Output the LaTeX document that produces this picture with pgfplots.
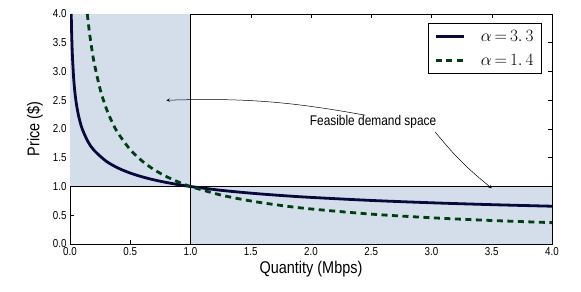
\documentclass[border=0pt]{standalone}
\usepackage{fontspec}
\setmainfont{Liberation Sans}[FakeStretch=0.85]
\usepackage{pgfplots}
\pgfplotsset{compat=1.18}
\definecolor{shade}{RGB}{211,222,234}
\definecolor{navy}{RGB}{8,8,58}
\definecolor{dgreen}{RGB}{0,62,18}
\begin{document}
\begin{tikzpicture}
\begin{axis}[
  scale only axis,
  width=482pt, height=230pt,
  xmin=0, xmax=4, ymin=0, ymax=4,
  xtick={0,0.5,...,4}, ytick={0,0.5,...,4},
  tick align=inside,
  major tick length=4pt,
  tick style={black, line width=0.5pt},
  axis line style={black, line width=0.8pt},
  /pgf/number format/assume math mode=true,
  xticklabel style={font=\fontsize{11.5}{12}\selectfont, /pgf/number format/.cd, fixed, fixed zerofill, precision=1},
  yticklabel style={font=\fontsize{11.5}{12}\selectfont, /pgf/number format/.cd, fixed, fixed zerofill, precision=1},
  xlabel={Quantity (Mbps)},
  ylabel={Price (\$)},
  xlabel style={font=\fontsize{17}{19}\selectfont, at={(axis description cs:0.5,-0.109)}, anchor=center},
  ylabel style={font=\fontsize{17}{19}\selectfont, at={(axis description cs:-0.073,0.5)}, anchor=center},
  legend style={at={(rel axis cs:0.979,0.961)}, anchor=north east, draw=black, line width=0.8pt,
    font=\fontsize{17}{20}\selectfont, inner xsep=6pt, inner ysep=5pt, row sep=7pt,
    /tikz/every odd column/.append style={column sep=14pt}},
  legend cell align=left,
  legend image code/.code={\draw[#1] (0pt,0pt) -- (28pt,0pt);},
]
\addplot[fill=shade, draw=none, forget plot] coordinates {(0,1) (1,1) (1,4) (0,4)} -- cycle;
\addplot[fill=shade, draw=none, forget plot] coordinates {(1,0) (4,0) (4,1) (1,1)} -- cycle;
\addplot[black, line width=0.6pt, forget plot] coordinates {(1,0) (1,4)};
\addplot[black, line width=0.6pt, forget plot] coordinates {(0,1) (4,1)};
\addplot[navy, line width=2.8pt, smooth] coordinates {
(0.0103,4.0) (0.012,3.820) (0.015,3.570) (0.02,3.272) (0.03,2.894) (0.04,2.652)
(0.05,2.479) (0.07,2.239) (0.1,2.009) (0.15,1.777) (0.2,1.6285) (0.3,1.4403)
(0.4,1.3200) (0.5,1.2337) (0.6,1.1674) (0.7,1.1141) (0.8,1.0700) (0.9,1.0324)
(1,1) (1.25,0.9346) (1.5,0.8844) (1.75,0.8440) (2,0.8106) (2.5,0.7576)
(3,0.7168) (3.5,0.6841) (4,0.6570)};
\addlegendentry{$\alpha\,{=}\,3.\,3$}
\addplot[dgreen, line width=2.8pt, dash pattern=on 6pt off 4.5pt, smooth] coordinates {
(0.1436,4.0) (0.16,3.703) (0.18,3.404) (0.2,3.157) (0.25,2.692) (0.3,2.363)
(0.35,2.117) (0.4,1.924) (0.5,1.641) (0.6,1.440) (0.7,1.290) (0.8,1.173)
(0.9,1.078) (1,1) (1.25,0.8527) (1.5,0.7486) (1.75,0.6705) (2,0.6095)
(2.5,0.5197) (3,0.4563) (3.5,0.4087) (4,0.3715)};
\addlegendentry{$\alpha\,{=}\,1.\,4$}
\node[font=\fontsize{14}{16}\selectfont, inner sep=1pt] at (axis cs:2.515,2.12) {Feasible demand space};
\draw[->, line width=0.5pt, >=stealth] (axis cs:2.45,2.24) to[bend right=6] (axis cs:0.8,2.5);
\draw[->, line width=0.5pt, >=stealth] (axis cs:3.03,1.95) to[bend right=6] (axis cs:3.5,0.97);
\end{axis}
\pgfresetboundingbox
\path (current axis.south west) ++(-70pt,-47pt) coordinate (bl);
\path (current axis.north east) ++(29pt,14pt) coordinate (tr);
\path (bl) rectangle (tr);
\end{tikzpicture}
\end{document}
